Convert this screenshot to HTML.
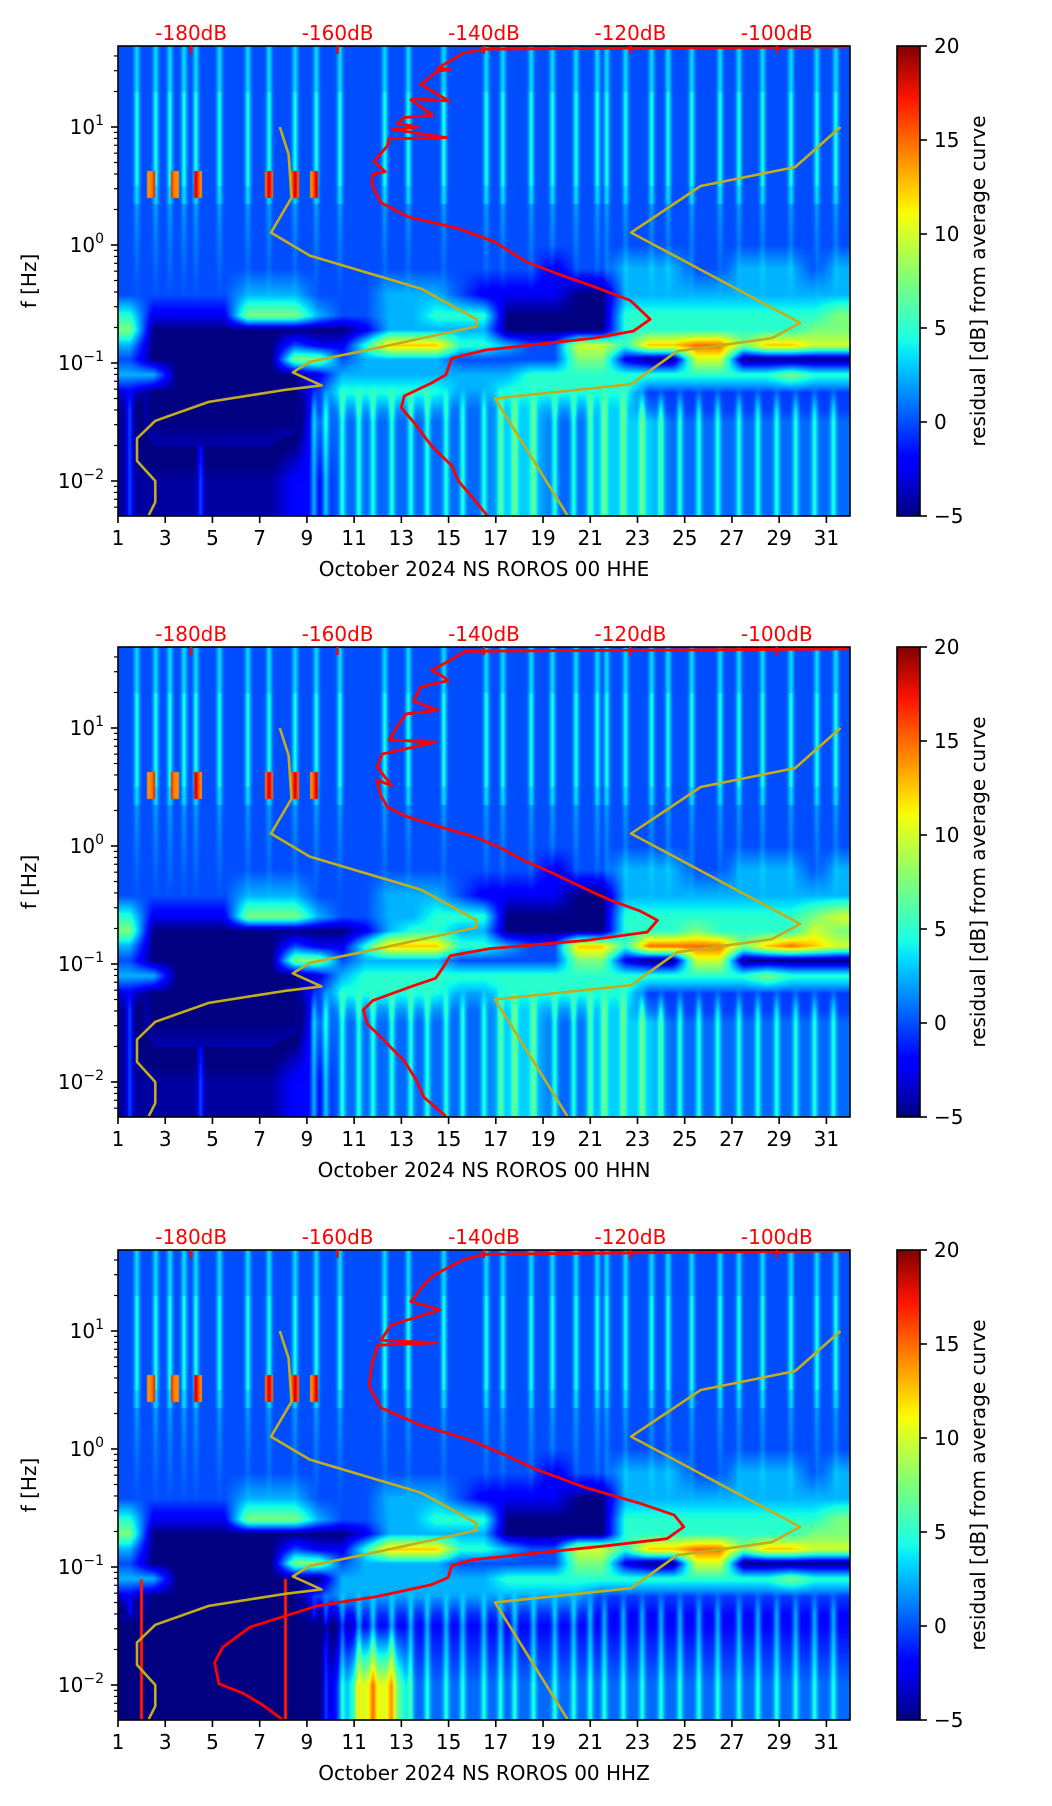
<!DOCTYPE html>
<html><head><meta charset="utf-8"><title>Spectrogram residuals</title>
<style>
html,body{margin:0;padding:0;background:#fff;}
#wrap{position:relative;width:1052px;height:1806px;overflow:hidden;background:#fff;}
canvas{position:absolute;}
svg{position:absolute;left:0;top:0;}
text{font-family:"DejaVu Sans","Liberation Sans",sans-serif;font-size:20px;}
</style></head>
<body>
<div id="wrap">
<canvas id="c0" width="732" height="470" style="left:118px;top:46px"></canvas>
<canvas id="c1" width="732" height="470" style="left:118px;top:647px"></canvas>
<canvas id="c2" width="732" height="470" style="left:118px;top:1250px"></canvas>
<svg id="ov" width="1052" height="1806">
<defs>
<linearGradient id="jet" x1="0" y1="1" x2="0" y2="0">
<stop offset="0" stop-color="#000080"/><stop offset="0.11" stop-color="#0000ff"/>
<stop offset="0.125" stop-color="#0000ff"/><stop offset="0.34" stop-color="#00e0ff"/>
<stop offset="0.375" stop-color="#1affe6"/><stop offset="0.5" stop-color="#7dff7a"/>
<stop offset="0.64" stop-color="#f5ff0a"/><stop offset="0.66" stop-color="#ffee00"/>
<stop offset="0.89" stop-color="#ff1300"/><stop offset="1" stop-color="#800000"/>
</linearGradient>
</defs>
</svg>
</div>
<script>
// ---------- data ----------
const panelTitles = ["October 2024 NS ROROS 00 HHE","October 2024 NS ROROS 00 HHN","October 2024 NS ROROS 00 HHZ"];
const dayTicks = [1,3,5,7,9,11,13,15,17,19,21,23,25,27,29,31];
const freqTickExp = [1,0,-1,-2];
const dbTicks = [-180,-160,-140,-120,-100];
const cbTicks = [20,15,10,5,0,-5];
// heatmap row centres (log10 f) and per-day levels (char c -> -5+2.5c dB)
const rowLf = [1.6,0.35,0.0,-0.2,-0.42,-0.6,-0.72,-0.85,-0.97,-1.1,-1.25,-1.5,-2.0,-2.3];
const grid1 = [
"2222222222222222222222222222222",
"2222222222222222222222222222222",
"2222222222222222222222222222222",
"2222222222222222221223332233323",
"2222233322233321111003333333333",
"4111155532233444000004444444445",
"5000000000133333000004444444455",
"3000000211477744322664778857766",
"2000000552333322222551006600000",
"3300000013333333344444444444544",
"1000000024444433444444222222222",
"1000000033333333443344433333333",
"1111111223333333443344433333333",
"1111111223333333443344433333333"];
const grid2 = [
"2222222222222222222222222222222",
"2222222222222222222222222222222",
"2222222222222222222222222222222",
"2222222222222222221223332233323",
"2222233322233321111003333333333",
"4111155532233444000004444444456",
"5000000000134433000004445444465",
"3000000211477744322774888857876",
"2000000552333322222551006600000",
"3300000013444444444444444445444",
"1000000024444433444444222222222",
"1000000033333333443344433333333",
"1111111223333333443344433333333",
"1111111223333333443344433333333"];
const grid3 = [
"2222222222222222222222222222222",
"2222222222222222222222222222222",
"2222222222222222222222222222222",
"2222222222222222221223332233323",
"2222233322233321111003333333333",
"4111155532233444000004444444445",
"5000000000133333000004444444455",
"3000000211477744322664778857766",
"2000000552333322222551006600000",
"3300000003333333444444444444544",
"1000000023333333333322222222222",
"0000000001222222222222222222222",
"0000000003773333333333333333333",
"0000000003773333333333333333333"];
const grids = [grid1, grid2, grid3];
const stripeDays = [1.8,2.6,3.2,3.8,4.3,5.3,6.5,7.4,8.5,9.4,10.4,12.3,13.3,14.8,16.6,17.3,18.5,19.4,20.4,21.3,21.7,22.5,23.6,24.3,25.3,26.5,27.3,28.3,29.5,30.6,31.4];
const bottomStreakDays = [1.5,4.5,9.3,9.8,10.5,11.2,11.8,12.6,13.4,14.1,14.9,15.6,16.5,17.2,17.8,18.6,19.5,20.3,21.0,21.6,22.4,23.2,24.0,24.8,25.6,26.4,27.3,28.1,28.9,29.7,30.5,31.3];
const patchDays = [2.4,3.4,4.4,7.4,8.5,9.3];
const hhzStreakDays = [2.0,8.1];
// noise model curves (dB, log10 f)
const lowDb = [-167.9,-166.7,-166.3,-169.1,-163.8,-148.6,-141.0,-141.0,-155.9,-163.8,-166.1,-162.2,-167.4,-177.6,-184.9,-187.4,-187.4,-184.9,-184.9,-185.8];
const lowLf = [1.0,0.77,0.40,0.105,-0.09,-0.37,-0.63,-0.69,-0.89,-0.99,-1.08,-1.19,-1.23,-1.33,-1.49,-1.64,-1.83,-2.0,-2.18,-2.29];
const highDb = [-91.3,-97.5,-110.4,-119.9,-96.8,-100.7,-113.6,-119.9,-138.5,-128.6];
const highLf = [1.0,0.66,0.50,0.105,-0.66,-0.79,-0.90,-1.18,-1.30,-2.29];
// average PSD curves per channel
const redDb1 = [-90.1,-139.8,-142.7,-146.3,-144.6,-146.5,-148.6,-144.8,-149.5,-150.0,-147,-151,-151.8,-149,-152.5,-145.1,-153,-153.2,-155.0,-153.5,-155.2,-155.3,-154.1,-150.4,-143.5,-138.5,-134.3,-129.7,-125.1,-120.0,-117.3,-119.6,-125.1,-139.8,-144.4,-145.2,-147.2,-150.9,-151.3,-149.5,-147.2,-144.4,-143.5,-141.7,-139.6];
const redLf1 = [1.68,1.66,1.63,1.50,1.49,1.47,1.36,1.22,1.24,1.23,1.1,1.08,1.03,1.0,0.98,0.91,0.90,0.84,0.71,0.62,0.60,0.51,0.36,0.24,0.14,0.025,-0.14,-0.25,-0.35,-0.47,-0.63,-0.73,-0.79,-0.89,-0.96,-1.10,-1.17,-1.28,-1.38,-1.51,-1.70,-1.87,-2.0,-2.13,-2.29];
const redDb2 = [-90.2,-142.6,-145.9,-147.2,-145.9,-144.9,-148.6,-149.6,-146.3,-150.6,-151.9,-152.9,-146.6,-153.9,-154.6,-152.6,-154.6,-154.2,-153.2,-150.6,-145.9,-141.3,-137.6,-134.6,-130.6,-126.6,-122.7,-118.7,-116.3,-117.7,-126.0,-139.3,-144.6,-145.6,-146.6,-149.9,-155.2,-156.5,-155.9,-153.6,-151.9,-150.9,-149.2,-148.2,-145.2];
const redLf2 = [1.67,1.65,1.53,1.49,1.45,1.40,1.35,1.23,1.15,1.12,1.01,0.90,0.88,0.78,0.67,0.51,0.56,0.44,0.33,0.25,0.16,0.08,-0.02,-0.12,-0.23,-0.35,-0.46,-0.55,-0.63,-0.73,-0.80,-0.87,-0.93,-1.03,-1.12,-1.19,-1.31,-1.39,-1.51,-1.65,-1.76,-1.82,-1.99,-2.13,-2.29];
const redDb3 = [-90.0,-139.8,-142.6,-146.7,-148.1,-150.0,-146,-152.7,-154.1,-146.5,-154.5,-155.3,-155.7,-154.1,-149.0,-141.7,-137.1,-133.4,-126.0,-118.7,-114.0,-112.7,-115.0,-123.3,-141.7,-144.4,-144.9,-147.2,-154.6,-162.8,-167.4,-172.0,-175.7,-176.8,-176.2,-172.9,-170.2,-167.6];
const redLf3 = [1.68,1.65,1.61,1.48,1.40,1.25,1.18,1.05,0.92,0.90,0.88,0.73,0.53,0.35,0.21,0.07,-0.05,-0.16,-0.33,-0.46,-0.56,-0.66,-0.76,-0.82,-0.94,-0.99,-1.09,-1.15,-1.25,-1.33,-1.42,-1.51,-1.68,-1.81,-1.99,-2.07,-2.17,-2.29];
const redDbs = [redDb1, redDb2, redDb3];
const redLfs = [redLf1, redLf2, redLf3];

// ---------- axes ----------
const panelTops = [46, 647, 1250];
const PL = 118, PW = 732, PH = 470;
const LF_TOP = 1 + 81/118, LF_BOT = 1 - 389/118;
function xDay(d){ return PL + (d-1)*PW/31; }
function xDb(db){ return PL + (db+190)*PW/100; }
function yLf(lf, top){ return top + (LF_TOP-lf)/(LF_TOP-LF_BOT)*PH; }

function jet(t){
  t = Math.max(0, Math.min(1, t));
  function seg(pts){ for(let i=1;i<pts.length;i++){ if(t<=pts[i][0]){ const a=pts[i-1], b=pts[i]; return a[1]+(b[1]-a[1])*(t-a[0])/(b[0]-a[0]); } } return pts[pts.length-1][1]; }
  const r = seg([[0,0],[0.35,0],[0.66,1],[0.89,1],[1,0.5]]);
  const g = seg([[0,0],[0.125,0],[0.375,1],[0.64,1],[0.91,0],[1,0]]);
  const b = seg([[0,0.5],[0.11,1],[0.34,1],[0.65,0],[1,0]]);
  return [r*255,g*255,b*255];
}

function drawHeat(p){
  const cv = document.getElementById('c'+p), ctx = cv.getContext('2d');
  const img = ctx.createImageData(PW, PH), D = img.data;
  const grid = grids[p];
  const vals = grid.map(s => s.split('').map(c => -5 + 2.5*(+c)));
  const colDay = [], stripe = [], bstr = [], patch = [], streak = [];
  for(let x=0;x<PW;x++){
    const d = 1 + (x+0.5)/PW*31; colDay.push(d);
    let s=0; stripeDays.forEach(sd=>{ s=Math.max(s, Math.exp(-Math.pow((d-sd)/0.12,2))); }); stripe.push(s);
    let b=0; bottomStreakDays.forEach(sd=>{ b=Math.max(b, Math.exp(-Math.pow((d-sd)/0.13,2))); }); bstr.push(b);
    let pt=0; patchDays.forEach(pd=>{ if(Math.abs(d-pd)<0.17) pt=1; }); patch.push(pt);
    let st=0; if(p===2) hhzStreakDays.forEach(sd=>{ if(Math.abs(d-sd)<0.07) st=1; }); streak.push(st);
  }
  for(let y=0;y<PH;y++){
    const lf = LF_TOP - (y+0.5)/PH*(LF_TOP-LF_BOT);
    let r0=0; while(r0<rowLf.length-2 && lf<rowLf[r0+1]) r0++;
    let wy = (rowLf[r0]-lf)/(rowLf[r0]-rowLf[r0+1]); wy=Math.max(0,Math.min(1,wy));
    const sf = lf>0.35 ? 1 : Math.max(0,(lf+0.5)/0.85)*0.55;
    const bf = lf < -1.2 ? Math.min(1,(-1.2-lf)/0.2) : 0;
    for(let x=0;x<PW;x++){
      const c = colDay[x]-1.5; let c0=Math.floor(c); let wx=c-c0;
      if(c0<0){c0=0;wx=0;} if(c0>29){c0=29;wx=1;}
      const a=vals[r0][c0]*(1-wx)+vals[r0][c0+1]*wx;
      const b=vals[r0+1][c0]*(1-wx)+vals[r0+1][c0+1]*wx;
      let v = a*(1-wy)+b*wy;
      v += stripe[x]*sf*3.5;
      if(lf>0.5 && lf<1.3) v += stripe[x]*1.0;
      if(v>-4) v += bf*(bstr[x]*4-1.8);
      if(patch[x] && lf>0.40 && lf<0.63) v = 14 + stripe[x]*4;
      if(streak[x] && lf<-1.1) v = 17;
      const col = jet((v+5)/25), i=(y*PW+x)*4;
      D[i]=col[0]; D[i+1]=col[1]; D[i+2]=col[2]; D[i+3]=255;
    }
  }
  ctx.putImageData(img,0,0);
}

const NS='http://www.w3.org/2000/svg', ov=document.getElementById('ov');
function el(tag, attrs, parent){ const e=document.createElementNS(NS,tag); for(const k in attrs) e.setAttribute(k,attrs[k]); (parent||ov).appendChild(e); return e; }
function pathFrom(xs, ys){ return xs.map((x,i)=>(i?'L':'M')+x.toFixed(1)+' '+ys[i].toFixed(1)).join(' '); }

for(let p=0;p<3;p++){
  drawHeat(p);
  const top = panelTops[p], bot = top+PH;
  const g = el('g',{});
  
  
  const lo = el('path',{d:pathFrom(lowDb.map(xDb), lowLf.map(l=>yLf(l,top))), fill:'none', stroke:'#c2ad1c','stroke-width':2.6,'stroke-linejoin':'round'}, g);
  
  
  const hi = el('path',{d:pathFrom(highDb.map(xDb), highLf.map(l=>yLf(l,top))), fill:'none', stroke:'#c2ad1c','stroke-width':2.6,'stroke-linejoin':'round'}, g);
  
  
  const rd = el('path',{d:pathFrom(redDbs[p].map(xDb), redLfs[p].map(l=>yLf(l,top))), fill:'none', stroke:'#ff0000','stroke-width':2.8,'stroke-linejoin':'round'}, g);
  
  
  const fr = el('rect',{x:PL,y:top,width:PW,height:PH,fill:'none',stroke:'#000','stroke-width':1.6}, g);
  
  
  dayTicks.forEach(d=>{
    const x=xDay(d);
    el('line',{x1:x,y1:bot,x2:x,y2:bot+7,stroke:'#000','stroke-width':1.6},g);
    const t=el('text',{x:x,y:bot+29,'text-anchor':'middle',fill:'#000'},g); t.textContent=d;
    
    
  });
  const xl=el('text',{x:PL+PW/2,y:bot+60,'text-anchor':'middle',fill:'#000'},g); xl.textContent=panelTitles[p];
  
  
  for(let e=-3;e<=1;e++){
    for(let m=1;m<10;m++){
      const lf=e+Math.log10(m); if(lf>LF_TOP||lf<LF_BOT) continue;
      const y=yLf(lf,top);
      el('line',{x1:PL,y1:y,x2:PL-(m===1?7:4),y2:y,stroke:'#000','stroke-width':m===1?1.6:1.2},g);
    }
  }
  freqTickExp.forEach(e=>{
    const y=yLf(e,top);
    const t=el('text',{x:104,y:y+7,'text-anchor':'end',fill:'#000'},g);
    
    
    const a=el('tspan',{},t); a.textContent='10';
    const b=el('tspan',{dy:-9,'font-size':14},t); b.textContent=(e<0?'\u2212':'')+Math.abs(e);
  });
  const yl=el('text',{x:36,y:top+PH/2,'text-anchor':'middle',fill:'#000',transform:'rotate(-90 36 '+(top+PH/2)+')'},g); yl.textContent='f [Hz]';
  
  
  dbTicks.forEach(db=>{
    const x=xDb(db);
    el('line',{x1:x,y1:top,x2:x,y2:top+8,stroke:'#ff0000','stroke-width':2.4},g);
    const t=el('text',{x:x,y:top-6,'text-anchor':'middle',fill:'#ff0000'},g); t.textContent=db+'dB';
    
    
  });
  const cb=el('rect',{x:897,y:top,width:23,height:PH,fill:'url(#jet)',stroke:'#000','stroke-width':1.6},g);
  
  
  cbTicks.forEach(v=>{
    const y=top+(20-v)/25*PH;
    el('line',{x1:920,y1:y,x2:927,y2:y,stroke:'#000','stroke-width':1.6},g);
    const t=el('text',{x:934,y:y+7,fill:'#000'},g); t.textContent=(v<0?'\u2212':'')+Math.abs(v);
    
    
  });
  const cl=el('text',{x:985,y:top+PH/2,'text-anchor':'middle',fill:'#000',transform:'rotate(-90 985 '+(top+PH/2)+')'},g); cl.textContent='residual [dB] from average curve';
  
  
}
</script>
</body></html>
